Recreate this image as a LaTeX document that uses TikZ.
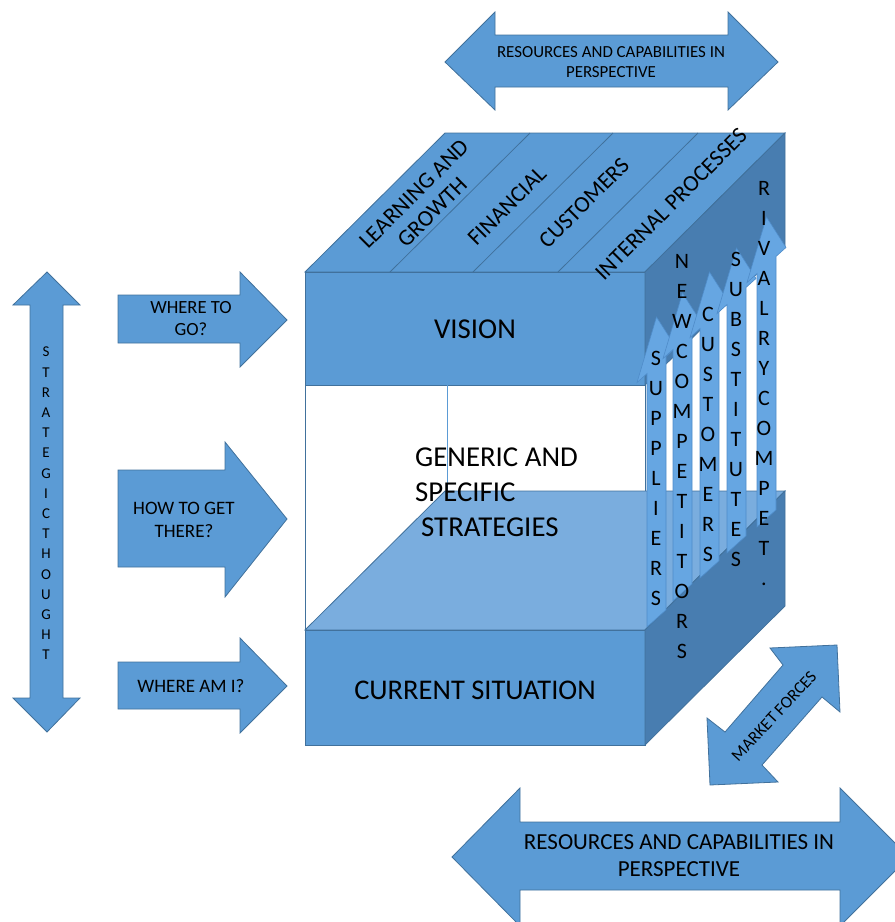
\documentclass[tikz,border=0pt]{standalone}
\usepackage{fontspec}
\setmainfont{Carlito}
\definecolor{mainblue}{HTML}{5B9BD5}
\definecolor{edgeblue}{HTML}{41719C}
\definecolor{darkblue}{HTML}{487DB0}
\definecolor{lightblue}{HTML}{7AADDE}
\definecolor{arrowblue}{HTML}{66A6E2}
\definecolor{arrowedge}{HTML}{4F8CC9}
\newcommand{\sidearrow}[3]{%
  \begin{scope}[shift={(#1,0)}, cm={1,0.9,0,1,(0,0)}]
    \pgfmathsetmacro\vt{#2+8.55}
    \pgfmathsetmacro\vb{\vt+48}
    \draw[sidearr] (0,#3) -- (0,\vb) -- (-10,\vb) -- (9.5,\vt) -- (29,\vb) -- (19,\vb) -- (19,#3) -- cycle;
  \end{scope}}
\begin{document}
\begin{tikzpicture}[x=1pt,y=-1pt,line join=miter,
  face/.style={fill=mainblue,draw=edgeblue,line width=0.8pt},
  sideface/.style={fill=darkblue,draw=edgeblue,line width=0.8pt},
  lightface/.style={fill=lightblue,draw=edgeblue,line width=0.8pt},
  bigarrow/.style={fill=mainblue,draw=edgeblue,line width=0.8pt},
  sidearr/.style={fill=arrowblue,draw=arrowedge,line width=0.6pt},
  lbl/.style={inner sep=0,align=center,text=black},
  stk/.style={inner sep=0,align=center,text=black,font=\fontsize{22}{30}\selectfont}]
\useasboundingbox (0,0) rectangle (895,922);
\clip (0,0) rectangle (895,922);

% ---- vision box
\draw[face] (305,272) -- (445,133) -- (785,133) -- (645,272) -- cycle;
\draw[face] (305,272) rectangle (645,385);
\draw[sideface] (645,272) -- (785,133) -- (785,246) -- (645,385) -- cycle;
\draw[edgeblue,line width=0.8pt] (390,272) -- (530,133);
\draw[edgeblue,line width=0.8pt] (473,272) -- (613,133);
\draw[edgeblue,line width=0.8pt] (558,272) -- (698,133);

% ---- middle (white) section
\draw[edgeblue,line width=0.8pt] (305,385) -- (305,630);
\draw[edgeblue,line width=0.8pt] (645,385) -- (645,630);
\draw[mainblue,line width=0.6pt] (447,385) -- (447,491);

% ---- current situation box
\draw[lightface] (305,630) -- (445,491) -- (785,491) -- (645,630) -- cycle;
\draw[face] (305,630) rectangle (645,745);
\draw[sideface] (645,630) -- (785,491) -- (785,606) -- (645,745) -- cycle;

% ---- five forces arrows
\sidearrow{647}{317}{627}
\sidearrow{673}{293}{601}
\sidearrow{700}{272}{578}
\sidearrow{727}{248}{553}
\sidearrow{757}{217}{527}

\node[stk] (sup) at (656,478.5) {S\\U\\P\\P\\L\\I\\E\\R\\S};
\node[stk] (newc) at (682,456.5) {N\\E\\W\\C\\O\\M\\P\\E\\T\\I\\T\\O\\R\\S};
\node[stk] (cust) at (708,434.5) {C\\U\\S\\T\\O\\M\\E\\R\\S};
\node[stk] (subs) at (736,409) {S\\U\\B\\S\\T\\I\\T\\U\\T\\E\\S};
\node[stk] (riv) at (764,384) {R\\I\\V\\A\\L\\R\\Y\\C\\O\\M\\P\\E\\T\\.};

% ---- top face labels
\node[lbl,rotate=45,font=\fontsize{23}{26}\selectfont] (learn) at (423,203) {LEARNING AND\\GROWTH};
\node[lbl,rotate=45,font=\fontsize{23}{26}\selectfont] (fin) at (507,206) {FINANCIAL};
\node[lbl,rotate=45,font=\fontsize{23}{26}\selectfont] (custtop) at (584,203) {CUSTOMERS};
\node[lbl,rotate=45,font=\fontsize{23}{26}\selectfont] (intp) at (671,204) {INTERNAL PROCESSES};

% ---- cube texts
\node[lbl,font=\fontsize{28.8}{34}\selectfont] (vision) at (475,329) {VISION};
\node[lbl,font=\fontsize{28.5}{34}\selectfont] (current) at (475,690) {CURRENT SITUATION};
\node[lbl,align=left,anchor=west,font=\fontsize{28.8}{35}\selectfont] (generic) at (415,492) {GENERIC AND\\SPECIFIC\\\hspace*{6pt}STRATEGIES};

% ---- left double arrow (strategic thought)
\draw[bigarrow] (47,272) -- (80,305) -- (63,305) -- (63,698) -- (80,698) -- (47,732) -- (13,698) -- (30,698) -- (30,305) -- (13,305) -- cycle;
\node[lbl,font=\fontsize{15}{20.2}\selectfont] (strat) at (46,503.5) {S\\T\\R\\A\\T\\E\\G\\I\\C\\T\\H\\O\\U\\G\\H\\T};

% ---- left right-pointing arrows
\draw[bigarrow] (118,295) -- (240,295) -- (240,272) -- (287,320) -- (240,367) -- (240,343) -- (118,343) -- cycle;
\draw[bigarrow] (118,470) -- (225,470) -- (225,442) -- (287,519) -- (225,597) -- (225,567) -- (118,567) -- cycle;
\draw[bigarrow] (118,662) -- (240,662) -- (240,638) -- (287,686) -- (240,733) -- (240,709) -- (118,709) -- cycle;
\node[lbl,font=\fontsize{18.6}{22}\selectfont] (where) at (191,319) {WHERE TO\\GO?};
\node[lbl,font=\fontsize{19}{23.5}\selectfont] (how) at (184,520) {HOW TO GET\\THERE?};
\node[lbl,font=\fontsize{19}{23}\selectfont] (am) at (191,686) {WHERE AM I?};

% ---- top double arrow
\draw[bigarrow] (445,62) -- (495,12) -- (495,35) -- (728,35) -- (728,12) -- (778,62) -- (728,110) -- (728,87) -- (495,87) -- (495,110) -- cycle;
\node[lbl,font=\fontsize{16.9}{20}\selectfont] (restop) at (611,62) {RESOURCES AND CAPABILITIES IN\\PERSPECTIVE};

% ---- bottom double arrow
\draw[bigarrow] (452,857) -- (520,788) -- (520,822) -- (840,822) -- (840,788) -- (909,857) -- (840,926) -- (840,890) -- (520,890) -- (520,926) -- cycle;
\node[lbl,font=\fontsize{23}{27}\selectfont] (resbot) at (679,856) {RESOURCES AND CAPABILITIES IN\\PERSPECTIVE};

% ---- market forces arrow
\draw[bigarrow] (837,645) -- (840,712) -- (822,697) -- (762,765) -- (778,782) -- (710,785) -- (707,718) -- (725,732) -- (783,665) -- (770,648) -- cycle;
\node[lbl,rotate=47,font=\fontsize{17}{20}\selectfont] (market) at (774,716) {MARKET FORCES};
\end{tikzpicture}
\end{document}
